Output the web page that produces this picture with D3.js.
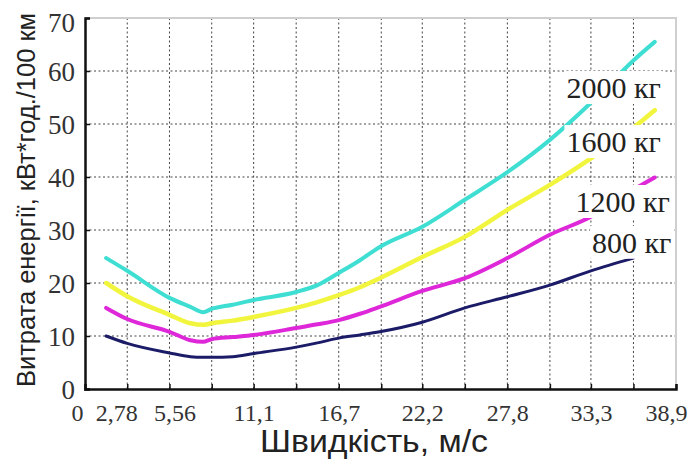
<!DOCTYPE html>
<html>
<head>
<meta charset="utf-8">
<script src="https://cdn.jsdelivr.net/npm/d3@7"></script>
<style>
  html, body { margin: 0; padding: 0; background: #fff; }
  svg { display: block; }
  .serif { font-family: "Liberation Serif", "Times New Roman", serif; }
  .sans { font-family: "Liberation Sans", Arial, sans-serif; }
</style>
</head>
<body>
<svg id="chart" width="688" height="460"></svg>
<script>
// Speeds (m/s) at which the consumption curves are sampled
const speeds = [1.39, 2.78, 5.56, 6.94, 7.78, 8.33, 9.72, 11.1, 13.9, 15.3, 16.7, 18.1, 19.4, 22.2, 25.0, 27.8, 30.6, 33.3, 36.1, 37.5];

// Energy consumption, kWh/100 km, for each vehicle mass
const mass2000 = [24.7, 22.3, 17.2, 15.5, 14.5, 15.1, 15.9, 16.8, 18.3, 19.6, 21.9, 24.3, 26.8, 30.6, 35.7, 40.9, 47.0, 54.0, 62.0, 65.5];
const mass1600 = [20.0, 17.5, 14.0, 12.4, 12.1, 12.4, 12.9, 13.6, 15.3, 16.4, 17.7, 19.2, 20.9, 24.9, 28.7, 33.8, 38.5, 43.5, 49.3, 52.6];
const mass1200 = [15.3, 13.2, 10.8, 9.2, 8.9, 9.4, 9.8, 10.2, 11.5, 12.2, 13.0, 14.2, 15.5, 18.5, 20.9, 24.7, 29.1, 32.5, 37.6, 39.9];
const mass800  = [10.0, 8.6, 6.8, 6.1, 6.0, 6.0, 6.1, 6.7, 7.9, 8.7, 9.6, 10.2, 10.8, 12.6, 15.3, 17.4, 19.6, 22.3, 24.7, null];

const seriesNames = ["2000 кг", "1600 кг", "1200 кг", "800 кг"];

// Axis ticks
const xTickValues = [0, 2.78, 5.56, 8.34, 11.1, 13.9, 16.7, 19.5, 22.2, 25.0, 27.8, 30.6, 33.3, 36.1, 38.9];
const xTickLabels = ["0", "2,78", "5,56", "", "11,1", "", "16,7", "", "22,2", "", "27,8", "", "33,3", "", "38,9"];
const yTickValues = [0, 10, 20, 30, 40, 50, 60, 70];

const xTitle = "Швидкість, м/с";
const yTitle = "Витрата енергії, кВт*год./100 км";

// ---- layout ----
const svg = d3.select("#chart");
const plotL = 85, plotR = 676, plotT = 18, plotB = 389;

const x = d3.scaleLinear().domain([0, 38.9]).range([plotL, plotR]);
const y = d3.scaleLinear().domain([0, 70]).range([plotB, plotT]);

const series = [
  { name: seriesNames[0], values: mass2000, color: "#3fded3", width: 4 },
  { name: seriesNames[1], values: mass1600, color: "#f2f53e", width: 4.5 },
  { name: seriesNames[2], values: mass1200, color: "#de27d8", width: 4 },
  { name: seriesNames[3], values: mass800,  color: "#1b1b68", width: 3 }
];

// label placement in data space (speed of right edge, value of baseline)
const labelAnchors = [
  { x: 37.9, y: 54.9 },
  { x: 37.9, y: 44.7 },
  { x: 38.5, y: 33.4 },
  { x: 38.6, y: 25.7 }
];

// ---- grid ----
const grid = svg.append("g").attr("class", "grid")
  .attr("stroke", "#444").attr("stroke-width", 1).attr("stroke-dasharray", "2,2.5");
grid.selectAll("line.v").data(xTickValues.slice(1, -1)).join("line")
  .attr("class", "v")
  .attr("x1", d => x(d)).attr("x2", d => x(d))
  .attr("y1", plotT).attr("y2", plotB);
grid.selectAll("line.h").data(yTickValues.slice(1, -1)).join("line")
  .attr("class", "h")
  .attr("x1", plotL).attr("x2", plotR)
  .attr("y1", d => y(d)).attr("y2", d => y(d));

// light frame on top and right
svg.append("path")
  .attr("d", `M${plotL},${plotT}H${plotR}V${plotB}`)
  .attr("fill", "none").attr("stroke", "#cfcfcf").attr("stroke-width", 2);

// ---- curves ----
const line = d3.line()
  .defined(d => d[1] != null)
  .x(d => x(d[0])).y(d => y(d[1]))
  .curve(d3.curveMonotoneX);

svg.append("g").selectAll("path").data(series).join("path")
  .attr("d", s => line(speeds.map((v, i) => [v, s.values[i]])))
  .attr("fill", "none")
  .attr("stroke", s => s.color)
  .attr("stroke-width", s => s.width)
  .attr("stroke-linejoin", "round")
  .attr("stroke-linecap", "round");

// ---- series labels on white boxes ----
const labels = svg.append("g");
series.forEach((s, i) => {
  const g = labels.append("g");
  const t = g.append("text")
    .attr("class", "serif")
    .attr("x", x(labelAnchors[i].x))
    .attr("y", y(labelAnchors[i].y))
    .attr("text-anchor", "end")
    .style("font-size", "30px")
    .attr("fill", "#222")
    .text(s.name);
  const b = t.node().getBBox();
  g.insert("rect", "text")
    .attr("x", b.x - 2).attr("y", b.y)
    .attr("width", b.width + 4).attr("height", b.height)
    .attr("fill", "#fff");
});

// ---- axes ----
const xAxis = svg.append("g")
  .attr("transform", `translate(0,${plotB})`)
  .call(d3.axisBottom(x).tickValues(xTickValues)
    .tickFormat((d, i) => xTickLabels[i]).tickSize(-5).tickPadding(0));
xAxis.attr("font-family", null).attr("font-size", null);
xAxis.select(".domain").attr("stroke", "#111").attr("stroke-width", 2.5);
xAxis.selectAll(".tick line").attr("stroke", "#111").attr("stroke-width", 1.5);
xAxis.selectAll(".tick text")
  .attr("class", "serif").style("font-size", "24px").attr("fill", "#333")
  .attr("y", 32).attr("dy", 0);
// keep the crowded labels near the origin apart, last one inside the edge
xAxis.selectAll(".tick text").filter((d, i) => i === 0).attr("dx", -8);
xAxis.selectAll(".tick text").filter((d, i) => i === 1).attr("dx", -11);
xAxis.selectAll(".tick text").filter((d, i) => i === 2).attr("dx", 5);
xAxis.selectAll(".tick text").filter((d, i) => i === xTickValues.length - 1)
  .attr("text-anchor", "end").attr("dx", 11);

const yAxis = svg.append("g")
  .attr("transform", `translate(${plotL},0)`)
  .call(d3.axisLeft(y).tickValues(yTickValues).tickFormat(d3.format("d")).tickSize(-5).tickPadding(8));
yAxis.attr("font-family", null).attr("font-size", null);
yAxis.select(".domain").attr("stroke", "#111").attr("stroke-width", 2.5);
yAxis.selectAll(".tick line").attr("stroke", "#111").attr("stroke-width", 1.5);
yAxis.selectAll(".tick text")
  .attr("class", "serif").style("font-size", "27px").attr("fill", "#333")
  .attr("x", -10).attr("dy", "0.34em");
// top label sits just inside the chart's upper edge
yAxis.selectAll(".tick text").filter(d => d === 70).attr("dy", "0.5em");

// ---- axis titles ----
svg.append("text")
  .attr("class", "sans")
  .attr("x", 374).attr("y", 452)
  .attr("text-anchor", "middle")
  .style("font-size", "31px").attr("fill", "#222")
  .attr("textLength", 228).attr("lengthAdjust", "spacingAndGlyphs")
  .text(xTitle);

svg.append("text")
  .attr("class", "sans")
  .attr("transform", "translate(35,200) rotate(-90)")
  .attr("text-anchor", "middle")
  .style("font-size", "25px").attr("fill", "#222")
  .attr("textLength", 374).attr("lengthAdjust", "spacingAndGlyphs")
  .text(yTitle);
</script>
</body>
</html>
